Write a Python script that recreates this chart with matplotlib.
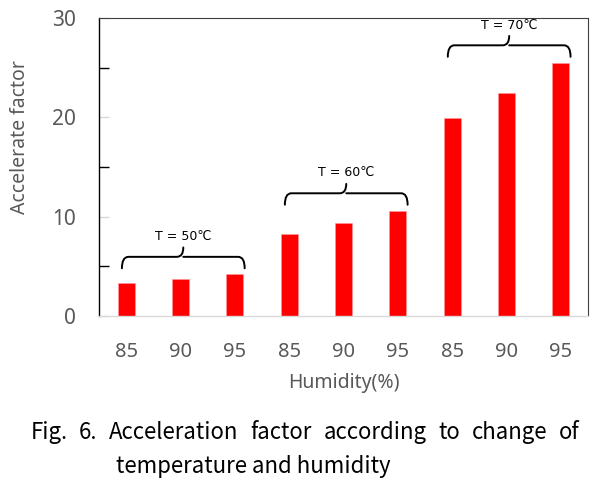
import matplotlib
matplotlib.use('Agg')
import matplotlib.pyplot as plt
from matplotlib.path import Path
import matplotlib.patches as mpatches
import numpy as np

# data
humidity = ['85', '90', '95', '85', '90', '95', '85', '90', '95']
accel = [3.3, 3.7, 4.2, 8.3, 9.4, 10.6, 19.9, 22.5, 25.5]
groups = ['T = 50\u2103', 'T = 60\u2103', 'T = 70\u2103']
caption1 = 'Fig. 6. Acceleration factor according to change of'
caption2 = 'temperature and humidity'

plt.rcParams['font.family'] = ['Noto Sans', 'DejaVu Sans']
GRAY = '#595959'


def draw_brace(ax, x0, x1, y, h, label):
    """curly brace opening downward, tip upward"""
    xm = (x0 + x1) / 2
    r = 0.12
    ym = y + h * 0.55
    verts = [
        (x0, y), (x0, ym), (x0 + r, ym),
        (xm - r, ym),
        (xm, ym), (xm, y + h),
        (xm, ym), (xm + r, ym),
        (x1 - r, ym),
        (x1, ym), (x1, y),
    ]
    codes = [Path.MOVETO, Path.CURVE3, Path.CURVE3,
             Path.LINETO,
             Path.CURVE3, Path.CURVE3,
             Path.MOVETO, Path.CURVE3,
             Path.LINETO,
             Path.CURVE3, Path.CURVE3]
    ax.add_patch(mpatches.PathPatch(Path(verts, codes), fill=False,
                                    lw=1.4, color='black', capstyle='round'))
    ax.text(xm, y + h + 0.45, label, ha='center', va='bottom', fontsize=9,
            color='black', family=['DejaVu Sans'])


fig = plt.figure(figsize=(6.08, 4.88), dpi=100, facecolor='white')
ax = fig.add_axes([0.163, 0.3525, 0.804, 0.6105])

x = np.arange(len(accel))
ax.bar(x, accel, width=0.31, color='#ff0000', edgecolor='#ff9999', linewidth=0.4)

ax.set_xlim(-0.5, 8.5)
ax.set_ylim(0, 30)
ax.set_yticks([0, 10, 20, 30])
ax.set_yticks([5, 15, 25], minor=True)
ax.set_xticks(x)
ax.set_xticklabels(humidity)

ax.tick_params(axis='y', which='major', direction='in', length=7, width=1,
               color='#d9d9d9', labelsize=15, labelcolor=GRAY, pad=17)
ax.tick_params(axis='y', which='minor', direction='in', length=7, width=1,
               color='black')
ax.tick_params(axis='x', length=0, labelsize=14.5, labelcolor=GRAY, pad=19)

ax.spines['left'].set_color('black')
ax.spines['bottom'].set_color('#d9d9d9')
ax.spines['top'].set_color('#404040')
ax.spines['right'].set_color('#404040')
for s in ax.spines.values():
    s.set_linewidth(1)
ax.spines['top'].set_linewidth(0.8)
ax.spines['right'].set_linewidth(0.8)

ax.set_ylabel('Accelerate factor', fontsize=14, color=GRAY)
ax.yaxis.set_label_coords(-0.141, 0.6)
ax.set_xlabel('Humidity(%)', fontsize=14, color=GRAY)
ax.xaxis.set_label_coords(0.5, -0.19)

# group braces above each set of three bars
for g, label in enumerate(groups):
    vals = accel[g * 3:g * 3 + 3]
    draw_brace(ax, g * 3 - 0.08, g * 3 + 2.18, max(vals) + 0.6, 2.1, label)

# caption, first line justified between x0 and x1 (figure fraction)
cap_font = ['Noto Sans CJK KR', 'DejaVu Sans']
cap_size = 16
renderer = fig.canvas.get_renderer()
words = caption1.split()
items = [fig.text(0, 0.113, w, fontsize=cap_size, color='black', ha='left',
                  va='center', family=cap_font) for w in words]
widths = [t.get_window_extent(renderer).width / fig.bbox.width for t in items]
x0, x1 = 0.05, 0.953
gap = (x1 - x0 - sum(widths)) / (len(words) - 1)
pos = x0
for t, w in zip(items, widths):
    t.set_x(pos)
    pos += w + gap
fig.text(0.19, 0.045, caption2, fontsize=cap_size, color='black', ha='left',
         va='center', family=cap_font)

fig.savefig('out.png', dpi=100, facecolor='white')
